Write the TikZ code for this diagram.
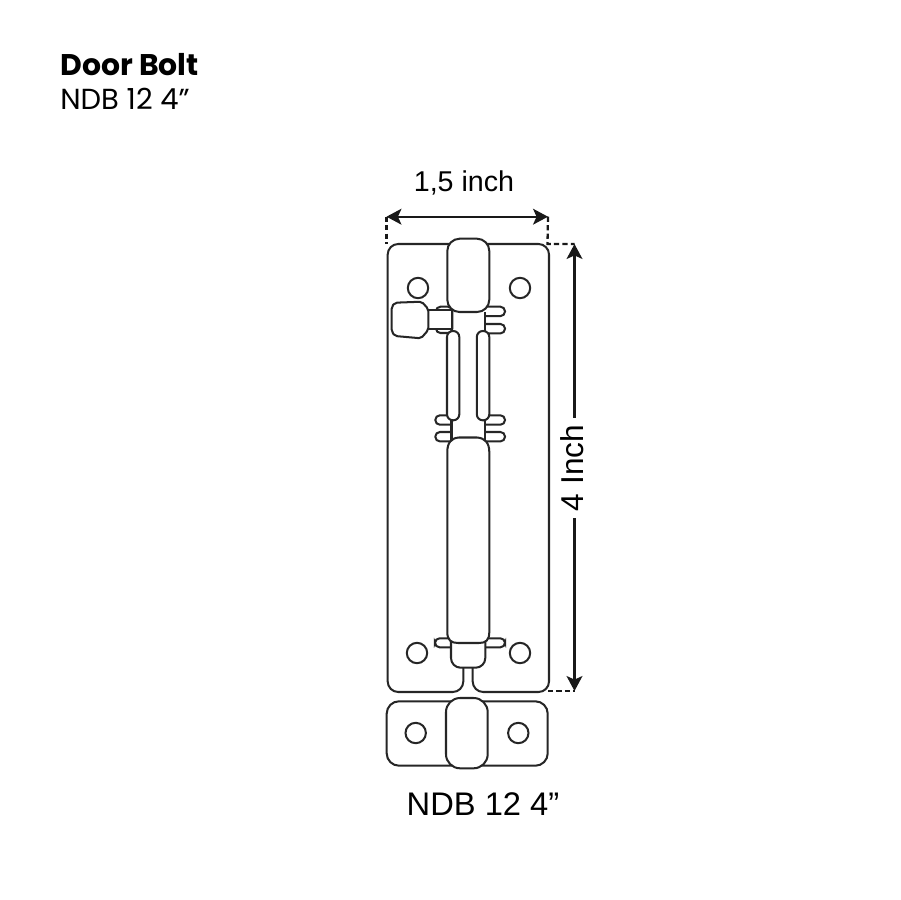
\documentclass[tikz,border=0pt]{standalone}
\usepackage{fontspec}
\setmainfont{Liberation Sans}
\newfontfamily\titlefont{Poppins}
\usetikzlibrary{arrows.meta}
\usetikzlibrary{calc}

\begin{document}
\begin{tikzpicture}[
	x=0.02cm,y=-0.02cm,
	part/.style={draw=black!85,line width=1.15pt,fill=white},
	outline/.style={draw=black!85,line width=1.15pt},
	dimline/.style={draw=black!90,line width=1.15pt,{Stealth[length=8.5pt,width=9pt,inset=2pt]}-{Stealth[length=8.5pt,width=9pt,inset=2pt]}},
	guide/.style={draw=black!90,line width=1.3pt,dash pattern=on 3pt off 1.8pt},
	hole/.style={circle,draw=black!85,line width=1.15pt,minimum size=11.6pt,inner sep=0pt}
]

	% definitions
	\def\plateL{387.7}
	\def\plateR{549}
	\def\plateT{244}
	\def\plateB{692}
	\def\boltL{447.3}
	\def\boltR{489.3}
	\useasboundingbox (0,0) rectangle (900,900);

	% title
	\node[anchor=base west,inner sep=0pt,font=\titlefont\bfseries\fontsize{17}{19}\selectfont] (title) at (60,75) {Door Bolt};
	\node[anchor=base west,inner sep=0pt,font=\titlefont\fontsize{16.5}{19}\selectfont] (subtitle) at (60,109) {NDB 12 4”};

	% plate with the notch below
	\draw[outline,rounded corners=6pt] (463.3,668) -- (463.3,692) -- (\plateL,\plateB) -- (\plateL,\plateT) -- (\plateR,\plateT) -- (\plateR,\plateB) -- (472.7,692) -- (472.7,668);

	% holes
	\foreach \hx/\hy/\hname in {418/288/holeA,520/288/holeB,417/653/holeC,520/653/holeD}{
		\node[hole] (\hname) at (\hx,\hy) {};
	}

	% handle and shaft
	\draw[part,rounded corners=2.5pt] (436,306.7) rectangle (452.3,333);
	\draw[part] (428.3,310) rectangle (452.3,329.3);
	\draw[part,rounded corners=1.2pt] (391.7,306.7) -- (395,302.7) -- (421.7,301.7) -- (428.3,309) -- (428.3,330) -- (421,338.3) -- (395,336) -- (391.7,331.7) -- cycle;

	% tabs
	\foreach \ty in {306.7,324,415.3,432}{
		\draw[part,rounded corners=2.6pt] (484.8,\ty) -- (505,\ty) -- (505,\ty+9.4) -- (484.8,\ty+9.4);
	}
	\foreach \ty in {415.3,432}{
		\draw[part,rounded corners=2.6pt] (451.5,\ty) -- (435.3,\ty) -- (435.3,\ty+9.4) -- (451.5,\ty+9.4);
	}
	\draw[part,rounded corners=2.6pt] (451,638.3) -- (435,638.3) -- (435,647.3) -- (451,647.3);
	\draw[part,rounded corners=2.6pt] (485,638.3) -- (505,638.3) -- (505,647.3) -- (485,647.3);

	% body sides
	\draw[outline] (452.3,312) -- (452.3,332);
	\draw[outline] (484.8,312) -- (484.8,332);
	\draw[outline] (451.5,418) -- (451.5,441);
	\draw[outline] (484.8,418) -- (484.8,441);

	% slots
	\draw[part,rounded corners=3.4pt] (447,420.3) -- (447,331) -- (459.3,331) -- (459.3,420.3) -- cycle;
	\draw[part,rounded corners=3.4pt] (476.8,420.3) -- (476.8,331) -- (489.3,331) -- (489.3,420.3) -- cycle;

	% foot of the bolt
	\draw[part,rounded corners=5.5pt] (451,635) -- (451,667.7) -- (485.3,667.7) -- (485.3,635);

	% lower bolt
	\draw[part] (\boltR,632) -- (\boltR,452) .. controls (\boltR,443) and (485,438) .. (477,437.5) -- (459,437.5) .. controls (451,438) and (\boltL,443) .. (\boltL,452) -- (\boltL,632) .. controls (\boltL,640) and (451,643) .. (458,643) -- (479,643) .. controls (486,643) and (\boltR,640) .. (\boltR,632) -- cycle;

	% upper bolt
	\draw[part,rounded corners=7pt] (\boltL,238.7) rectangle (\boltR,312);

	% keeper
	\draw[part,rounded corners=7pt] (386.7,701.3) rectangle (547.7,765.7);
	\foreach \hx/\hname in {415.7/holeE,518.3/holeF}{
		\node[hole] (\hname) at (\hx,733) {};
	}
	\draw[part,rounded corners=8pt] (446,698) rectangle (487.7,768.3);

	% dimensions
	\coordinate (widthL) at (386.5,216.7);
	\coordinate (widthR) at (548,216.7);
	\coordinate (cornerL) at (386.5,244);
	\coordinate (cornerR) at (547.5,244);
	\coordinate (heightT) at (574.5,244);
	\coordinate (heightB) at (574.5,691);
	\coordinate (plateBR) at (548,691);

	\draw[guide] (widthL) -- (cornerL);
	\draw[guide] (widthR) -- (cornerR) -- (heightT);
	\draw[guide] (plateBR) -- (heightB);
	\draw[dimline] (widthL) -- (widthR);
	\draw[dimline] (heightT) -- (heightB);

	% labels
	\node[font=\fontsize{16.3}{18}\selectfont,inner sep=0pt] (widthlabel) at (464,183) {1,5 inch};
	\node[fill=white,rotate=90,font=\fontsize{18}{20}\selectfont,inner sep=4pt] (heightlabel) at (572,468) {4 Inch};
	\node[font=\fontsize{18.6}{20}\selectfont,inner sep=0pt] (modellabel) at (483,804) {NDB 12 4”};

\end{tikzpicture}
\end{document}
